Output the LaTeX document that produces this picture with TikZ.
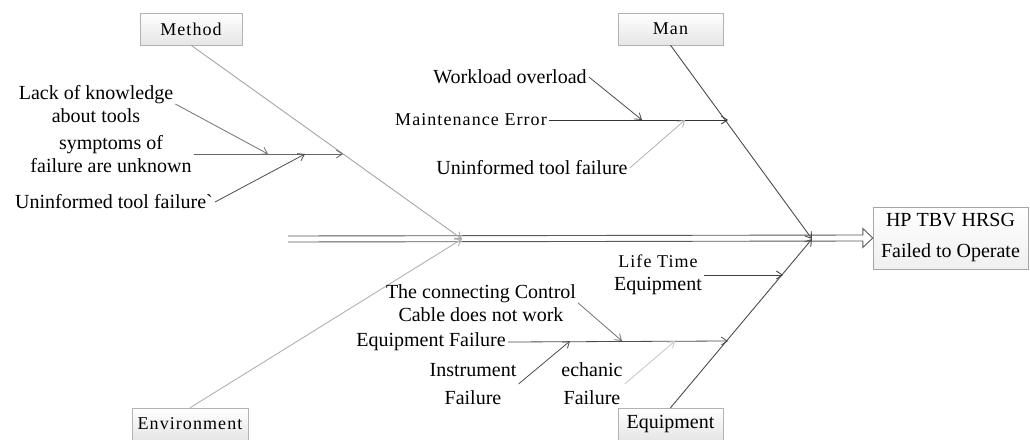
\documentclass[tikz,border=0pt]{standalone}
\usepackage{fontspec}
\setmainfont{Liberation Serif}
\newfontfamily\spcfam[LetterSpace=6]{Liberation Serif}
\usetikzlibrary{arrows.meta,shadows,calc}
\newcommand\rgfs{\fontsize{20}{23}\selectfont}
\newcommand\spfs{\fontsize{18}{21}\selectfont\spcfam}
\begin{document}
\begin{tikzpicture}[x=1pt,y=-1pt,
  txt/.style={font=\rgfs, inner sep=2pt, align=center},
  stxt/.style={font=\spfs, inner sep=2pt},
  catbox/.style={draw=gray!60, top color=white, bottom color=gray!20, minimum height=32pt, inner sep=0pt,
     drop shadow={shadow xshift=1.2pt,shadow yshift=-1.2pt,opacity=0.35}},
  hpbox/.style={draw=gray!70, top color=white, bottom color=gray!12, minimum width=155pt, minimum height=62pt,
     inner sep=0pt, align=center, font=\fontsize{20}{31}\selectfont,
     drop shadow={shadow xshift=1.2pt,shadow yshift=-1.2pt,opacity=0.3}},
  tip/.style={-{Straight Barb[length=6pt,width=8pt]}},
  bone/.style={tip, line width=0.9pt},
  sub/.style={tip, line width=0.8pt},
  spine/.style={draw=black!65, line width=0.9pt}
]
\useasboundingbox[fill=white] (0,0) rectangle (1030,439);

% category boxes
\node[catbox, minimum width=102pt, font=\spfs] (method) at (191,29) {Method};
\node[catbox, minimum width=105pt, font=\spfs] (man) at (670.5,29) {Man};
\node[catbox, minimum width=116pt, font=\spfs] (env) at (190,424) {Environment};
\node[catbox, minimum width=105pt, font=\rgfs] (equip) at (670.5,424) {Equipment};
\node[hpbox] (hp) at (950.5,238) {HP TBV HRSG\\Failed to Operate};

% spine
\coordinate (tail) at (288,239);
\coordinate (c1) at (462,239);
\coordinate (c2) at (812,239);
\draw[spine] ($(tail)+(0,-3)$) -- ($(hp.west)+(-10,-3)$) -- ($(hp.west)+(-10,-9.5)$) -- (hp.west)
  -- ($(hp.west)+(-10,9.5)$) -- ($(hp.west)+(-10,3)$) -- ($(tail)+(0,3)$);

% main bones
\draw[bone, gray!70] (method.south) -- (c1);
\draw[bone, gray!60] (env.north) -- (c1);
\draw[bone, black!70] (man.south) -- (c2);
\draw[bone, black!70] (equip.north) -- (c2);

% Method causes
\node[txt] (lack) at (96,104) {Lack of knowledge\\about tools};
\node[txt] (symp) at (111,154) {symptoms of\\failure are unknown};
\node[txt] (uf1) at (114,202) {Uninformed tool failure\textasciigrave};
\coordinate (k1) at (343,154);
\coordinate (k2) at (268,154);
\coordinate (k3) at (305,154);
\draw[sub, black!60] (symp.east) -- (k1);
\draw[sub, black!55] (lack.east) -- (k2);
\draw[sub, black!70] (uf1.east) -- (k3);

% Man causes
\node[txt] (wl) at (510,77) {Workload overload};
\node[stxt] (me) at (471,120) {Maintenance Error};
\node[txt] (uf2) at (532,168) {Uninformed tool failure};
\coordinate (m1) at (728,120);
\coordinate (m2) at (642,120);
\coordinate (m3) at (685,120);
\draw[sub, black!80] (me.east) -- (m1);
\draw[sub, black!70] (wl.east) -- (m2);
\draw[sub, gray!60] (uf2.east) -- (m3);

% Equipment causes
\node[txt] (lte) at (658,275) {{\spfs Life Time}\\Equipment};
\node[txt] (cable) at (481,303) {The connecting Control\\Cable does not work};
\node[txt] (ef) at (431,342) {Equipment Failure};
\node[txt, font=\fontsize{20}{28}\selectfont] (inst) at (473,384) {Instrument\\Failure};
\node[txt, font=\fontsize{20}{28}\selectfont] (mech) at (592,384) {echanic\\Failure};
\coordinate (l1) at (783,275);
\coordinate (e1) at (728,341);
\coordinate (e2) at (622,341);
\coordinate (e3) at (570,341);
\coordinate (e4) at (675,341);
\draw[sub, black!75] (lte.east) -- (l1);
\draw[sub, black!70] (ef.east) -- (e1);
\draw[sub, black!55] (cable.east) -- (e2);
\draw[sub, black!70] (inst.east) -- (e3);
\draw[sub, gray!45] (mech.east) -- (e4);
\end{tikzpicture}
\end{document}
